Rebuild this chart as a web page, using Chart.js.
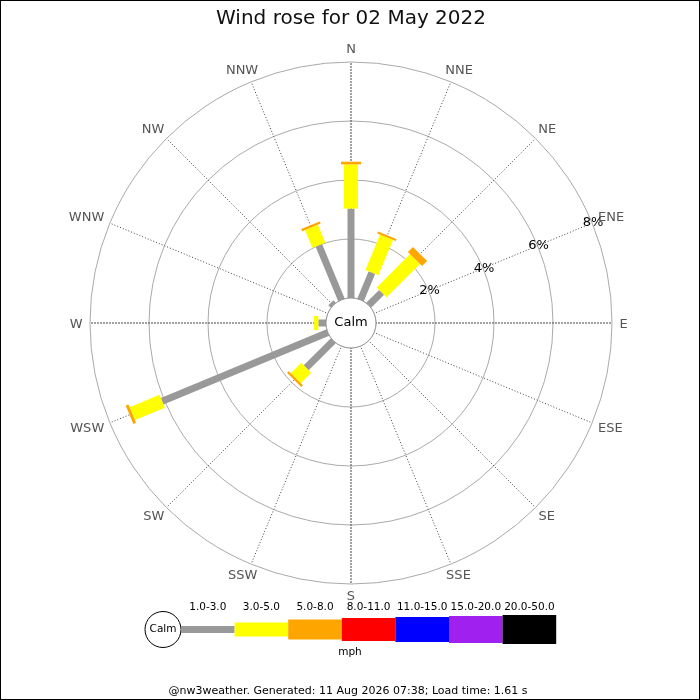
<!DOCTYPE html>
<html lang="en">
<head>
  <meta charset="UTF-8">
  <title>Wind rose</title>
  <script src="https://cdn.jsdelivr.net/npm/chart.js"></script>
  <style>
    body { margin: 0; background: #fff; }
    .chart-box { width: 700px; height: 700px; }
  </style>
</head>
<body>
  <div class="chart-box">
    <canvas id="windRose"></canvas>
  </div>

  <script>
    // Compass points, clockwise from north
    const directions = ['N', 'NNE', 'NE', 'ENE', 'E', 'ESE', 'SE', 'SSE',
                        'S', 'SSW', 'SW', 'WSW', 'W', 'WNW', 'NW', 'NNW'];

    // Speed bands (mph) and their colours
    const speedBands = ['1.0-3.0', '3.0-5.0', '5.0-8.0', '8.0-11.0', '11.0-15.0', '15.0-20.0', '20.0-50.0'];
    const bandColors = ['#999999', '#ffff00', '#ffa500', '#ff0000', '#0000ff', '#a020f0', '#000000'];
    const bandWidths = [7, 14, 20, 23, 25, 27, 29];

    // Frequency (% of the day) per direction, one array per speed band
    const band1to3   = [3.03, 1.00, 0.62, 0, 0, 0, 0, 0, 0, 0, 1.30, 6.08, 0.26, 0, 0.12, 2.00];
    const band3to5   = [1.50, 1.30, 1.60, 0, 0, 0, 0, 0, 0, 0, 0.50, 1.10, 0.15, 0, 0, 0.66];
    const band5to8   = [0.09, 0.07, 0.24, 0, 0, 0, 0, 0, 0, 0, 0.08, 0.10, 0, 0, 0, 0.08];
    const band8to11  = [0, 0, 0, 0, 0, 0, 0, 0, 0, 0, 0, 0, 0, 0, 0, 0];
    const band11to15 = [0, 0, 0, 0, 0, 0, 0, 0, 0, 0, 0, 0, 0, 0, 0, 0];
    const band15to20 = [0, 0, 0, 0, 0, 0, 0, 0, 0, 0, 0, 0, 0, 0, 0, 0];
    const band20to50 = [0, 0, 0, 0, 0, 0, 0, 0, 0, 0, 0, 0, 0, 0, 0, 0];
    const bandSeries = [band1to3, band3to5, band5to8, band8to11, band11to15, band15to20, band20to50];

    // Ring values (%) and the gap left for the calm circle
    const ringTicks = [0, 2, 4, 6, 8];
    const calmGap = 0.8475;

    const titleText = 'Wind rose for 02 May 2022';
    const footerText = '@nw3weather. Generated: 11 Aug 2026 07:38; Load time: 1.61 s';

    Chart.defaults.font.family = "'DejaVu Sans', sans-serif";

    const windRosePlugin = {
      id: 'windRose',
      beforeDraw(chart) {
        const ctx = chart.ctx;
        ctx.save();
        ctx.fillStyle = '#ffffff';
        ctx.fillRect(0, 0, chart.width, chart.height);
        ctx.restore();
      },
      afterDatasetsDraw(chart) {
        const ctx = chart.ctx;
        const scale = chart.scales.r;
        ctx.save();

        // stacked bars, one segment per speed band
        ctx.lineCap = 'butt';
        directions.forEach((dir, i) => {
          let start = 0;
          chart.data.datasets.forEach((ds, b) => {
            const v = ds.data[i];
            if (!v) return;
            const p0 = scale.getPointPosition(i, scale.getDistanceFromCenterForValue(start));
            const p1 = scale.getPointPosition(i, scale.getDistanceFromCenterForValue(start + v));
            ctx.strokeStyle = bandColors[b];
            ctx.lineWidth = bandWidths[b];
            ctx.beginPath();
            ctx.moveTo(p0.x, p0.y);
            ctx.lineTo(p1.x, p1.y);
            ctx.stroke();
            start += v;
          });
        });

        // calm circle
        const calmR = scale.getDistanceFromCenterForValue(0);
        ctx.beginPath();
        ctx.arc(scale.xCenter, scale.yCenter, calmR, 0, Math.PI * 2);
        ctx.fillStyle = '#ffffff';
        ctx.fill();
        ctx.lineWidth = 1;
        ctx.strokeStyle = '#999999';
        ctx.stroke();
        ctx.fillStyle = '#000000';
        ctx.font = "13px 'DejaVu Sans'";
        ctx.textAlign = 'center';
        ctx.textBaseline = 'middle';
        ctx.fillText('Calm', scale.xCenter, scale.yCenter);

        // compass labels just outside the outer ring, nudged away from it
        ctx.fillStyle = '#555555';
        ctx.textBaseline = 'alphabetic';
        const outer = scale.getDistanceFromCenterForValue(scale.max) + 6;
        const capH = 9.5;
        directions.forEach((dir, i) => {
          const a = scale.getIndexAngle(i);
          const pos = scale.getPointPosition(i, outer);
          const w = ctx.measureText(dir).width;
          const cx = pos.x + (w / 2 + 1.5) * Math.sin(a);
          let cy = pos.y - (capH / 2) * Math.cos(a);
          if (Math.cos(a) > 0.1) cy -= 3;
          ctx.fillText(dir, cx, cy + capH / 2);
        });

        // ring values along the ENE spoke
        ctx.fillStyle = '#000000';
        ctx.textBaseline = 'middle';
        ringTicks.slice(1).forEach(v => {
          const pos = scale.getPointPosition(3, scale.getDistanceFromCenterForValue(v));
          ctx.fillText(v + '%', pos.x + 1, pos.y);
        });
        ctx.restore();
      },
      afterDraw(chart) {
        const ctx = chart.ctx;
        ctx.save();

        // speed key
        const keyY = 629.5;
        const keyX = 181;
        const keyW = 53.6;
        ctx.beginPath();
        ctx.arc(163, keyY, 18, 0, Math.PI * 2);
        ctx.fillStyle = '#ffffff';
        ctx.fill();
        ctx.strokeStyle = '#000000';
        ctx.lineWidth = 1;
        ctx.stroke();
        ctx.fillStyle = '#000000';
        ctx.font = "10.5px 'DejaVu Sans'";
        ctx.textAlign = 'center';
        ctx.textBaseline = 'middle';
        ctx.fillText('Calm', 163, keyY);

        speedBands.forEach((band, b) => {
          const x = keyX + keyW * b;
          ctx.fillStyle = bandColors[b];
          ctx.fillRect(x, keyY - bandWidths[b] / 2, keyW, bandWidths[b]);
          ctx.fillStyle = '#000000';
          ctx.fillText(band, x + keyW / 2, 607);
        });
        ctx.fillText('mph', 350, 652);

        // footer
        ctx.font = "11px 'DejaVu Sans'";
        ctx.fillText(footerText, 348, 691);

        // frame
        ctx.strokeStyle = '#000000';
        ctx.lineWidth = 1;
        ctx.strokeRect(0.5, 0.5, chart.width - 1, chart.height - 1);
        ctx.restore();
      }
    };

    const ctx = document.getElementById('windRose').getContext('2d');
    const chartInstance = new Chart(ctx, {
      type: 'radar',
      data: {
        labels: directions,
        datasets: speedBands.map((band, b) => ({
          label: band,
          data: bandSeries[b],
          borderWidth: 0,
          pointRadius: 0,
          showLine: false,
          fill: false
        }))
      },
      options: {
        responsive: true,
        maintainAspectRatio: false,
        devicePixelRatio: 1,
        animation: false,
        layout: {
          padding: { left: 90, right: 88, top: 0, bottom: 116 }
        },
        plugins: {
          legend: { display: false },
          tooltip: { enabled: false },
          title: {
            display: true,
            text: titleText,
            color: '#111111',
            font: { size: 20, weight: 'normal', lineHeight: 1.2 },
            padding: { top: 7, bottom: 31 }
          }
        },
        scales: {
          r: {
            min: -calmGap,
            max: 8,
            afterBuildTicks: (scale) => {
              scale.ticks = ringTicks.map(v => ({ value: v }));
            },
            ticks: { display: false },
            grid: { circular: true, color: '#aaaaaa', lineWidth: 1 },
            angleLines: {
              color: '#444444',
              lineWidth: 1,
              borderDash: (c) => (c.index % 4 === 0 ? [2, 1] : [1, 2])
            },
            pointLabels: { display: false }
          }
        }
      },
      plugins: [windRosePlugin]
    });
  </script>
</body>
</html>
